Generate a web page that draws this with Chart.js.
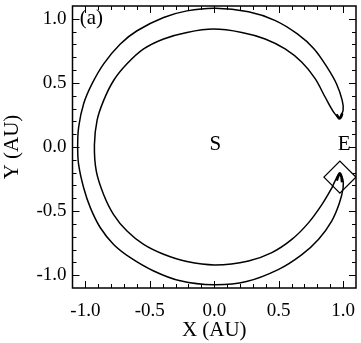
<!DOCTYPE html>
<html lang="en">
<head>
    <meta charset="UTF-8">
    <title>Horseshoe orbit</title>
    <script src="https://cdn.jsdelivr.net/npm/chart.js"></script>
    <style>
        html, body { margin: 0; padding: 0; background: #fff; }
    </style>
</head>
<body>
    <canvas id="orbit" width="361" height="343"></canvas>

    <script>
        // Path in the rotating frame (AU): outer edge from the upper tip round to the lower tip
        const outerX = [0.969, 1.000, 0.993, 0.950, 0.880, 0.775, 0.645, 0.470, 0.266, 0.008,
                        -0.212, -0.393, -0.599, -0.729, -0.858, -0.948, -1.013, -1.052, -1.060,
                        -1.052, -1.013, -0.961, -0.884, -0.781, -0.651, -0.470, -0.264, -0.005,
                        0.250, 0.500, 0.680, 0.810, 0.910, 0.970, 1.000, 0.997, 0.970];
        const outerY = [0.222, 0.285, 0.364, 0.490, 0.615, 0.765, 0.882, 0.988, 1.055, 1.083,
                        1.062, 1.010, 0.907, 0.804, 0.649, 0.494, 0.339, 0.157, 0.000,
                        -0.140, -0.320, -0.475, -0.630, -0.760, -0.863, -0.967, -1.044, -1.075,
                        -1.050, -0.955, -0.840, -0.720, -0.580, -0.440, -0.320, -0.250, -0.210];
        // ...then the inner edge back from the lower tip to the upper tip
        const innerX = [0.935, 0.912, 0.835, 0.731, 0.602, 0.447, 0.266, 0.008, -0.212, -0.393,
                        -0.548, -0.677, -0.781, -0.858, -0.915, -0.930, -0.909, -0.858, -0.781,
                        -0.677, -0.548, -0.393, -0.212, -0.005, 0.214, 0.395, 0.550, 0.680,
                        0.783, 0.860, 0.925, 0.969];
        const innerY = [-0.270, -0.320, -0.450, -0.592, -0.721, -0.824, -0.889, -0.920, -0.894, -0.837,
                        -0.760, -0.656, -0.527, -0.372, -0.191, 0.016, 0.209, 0.364, 0.519,
                        0.649, 0.765, 0.843, 0.894, 0.920, 0.894, 0.843, 0.765, 0.661,
                        0.533, 0.390, 0.274, 0.222];

        // overlapping passes that thicken the two turning points
        const upperTipX = [0.948, 0.962, 0.972, 0.985, 0.993];
        const upperTipY = [0.255, 0.232, 0.222, 0.236, 0.262];
        const lowerTipX = [0.950, 0.962, 0.973, 0.986, 0.992];
        const lowerTipY = [-0.262, -0.228, -0.205, -0.228, -0.275];

        // diamond marker (current position)
        const markerX = [0.975];
        const markerY = [-0.235];

        const tickValues = [-1.0, -0.5, 0.0, 0.5, 1.0];

        // text labels placed in data coordinates
        const labelText = ['S', 'E', '(a)'];
        const labelX = [0.008, 1.008, -0.953];
        const labelY = [0.020, 0.016, 1.000];

        const serif = 'Liberation Serif';

        const toPoints = (xs, ys) => xs.map((x, i) => ({ x: x, y: ys[i] }));
        const path = toPoints(outerX, outerY).concat(toPoints(innerX, innerY));

        // frame with inward ticks on all four sides, plus the text labels
        const frameTicks = {
            id: 'frameTicks',
            afterDatasetsDraw(chart) {
                const { ctx, chartArea: a, scales: { x, y } } = chart;
                ctx.save();
                ctx.strokeStyle = '#000';
                ctx.lineWidth = 1;
                ctx.beginPath();
                for (let i = -10; i <= 10; i++) {
                    const v = i / 10;
                    const len = i % 5 === 0 ? 7 : 4;
                    const px = Math.round(x.getPixelForValue(v)) + 0.5;
                    ctx.moveTo(px, a.bottom); ctx.lineTo(px, a.bottom - len);
                    ctx.moveTo(px, a.top); ctx.lineTo(px, a.top + len);
                    const py = Math.round(y.getPixelForValue(v)) + 0.5;
                    ctx.moveTo(a.left, py); ctx.lineTo(a.left + len, py);
                    ctx.moveTo(a.right, py); ctx.lineTo(a.right - len, py);
                }
                ctx.stroke();
                ctx.lineWidth = 1.5;
                ctx.strokeRect(a.left, a.top, a.right - a.left, a.bottom - a.top);

                ctx.fillStyle = '#000';
                ctx.font = '21px "' + serif + '"';
                ctx.textAlign = 'center';
                ctx.textBaseline = 'middle';
                labelText.forEach((t, i) => {
                    ctx.fillText(t, x.getPixelForValue(labelX[i]), y.getPixelForValue(labelY[i]));
                });
                ctx.restore();
            }
        };

        const setTicks = s => { s.ticks = tickValues.map(v => ({ value: v })); };
        // keep the end tick labels from pushing the plot area inwards
        const noOverflow = s => {
            s.paddingLeft = 0; s.paddingRight = 0;
            s.paddingTop = 0; s.paddingBottom = 0;
        };

        const tipSet = pts => ({
            data: pts,
            showLine: true,
            borderColor: '#000',
            borderWidth: 2.6,
            pointRadius: 0,
            tension: 0.3,
            fill: false
        });

        new Chart(document.getElementById('orbit'), {
            type: 'scatter',
            data: {
                datasets: [
                    {
                        data: path,
                        showLine: true,
                        borderColor: '#000',
                        borderWidth: 1.5,
                        pointRadius: 0,
                        tension: 0.35,
                        fill: false
                    },
                    tipSet(toPoints(upperTipX, upperTipY)),
                    tipSet(toPoints(lowerTipX, lowerTipY)),
                    {
                        data: toPoints(markerX, markerY),
                        showLine: false,
                        pointStyle: 'rectRot',
                        pointRadius: 16,
                        pointBorderColor: '#000',
                        pointBackgroundColor: 'rgba(0,0,0,0)',
                        pointBorderWidth: 1.3
                    }
                ]
            },
            options: {
                responsive: false,
                animation: false,
                layout: { autoPadding: false, padding: { top: 6, right: 5, left: 0, bottom: 0 } },
                plugins: { legend: { display: false }, tooltip: { enabled: false } },
                scales: {
                    x: {
                        type: 'linear',
                        min: -1.1,
                        max: 1.1,
                        afterBuildTicks: setTicks,
                        afterFit: s => { s.height = 55; noOverflow(s); },
                        grid: { display: false, drawTicks: false },
                        border: { display: false },
                        ticks: {
                            padding: 12,
                            color: '#000',
                            font: { family: serif, size: 19 },
                            callback: v => v.toFixed(1)
                        },
                        title: {
                            display: true,
                            text: 'X (AU)',
                            color: '#000',
                            font: { family: serif, size: 21 },
                            padding: 0
                        }
                    },
                    y: {
                        type: 'linear',
                        min: -1.1,
                        max: 1.1,
                        afterBuildTicks: setTicks,
                        afterFit: s => { s.width = 72.5; noOverflow(s); },
                        grid: { display: false, drawTicks: false },
                        border: { display: false },
                        ticks: {
                            padding: 6,
                            color: '#000',
                            font: { family: serif, size: 19 },
                            callback: v => v.toFixed(1)
                        },
                        title: {
                            display: true,
                            text: 'Y (AU)',
                            color: '#000',
                            font: { family: serif, size: 21 },
                            padding: 0
                        }
                    }
                }
            },
            plugins: [frameTicks]
        });
    </script>
</body>
</html>
